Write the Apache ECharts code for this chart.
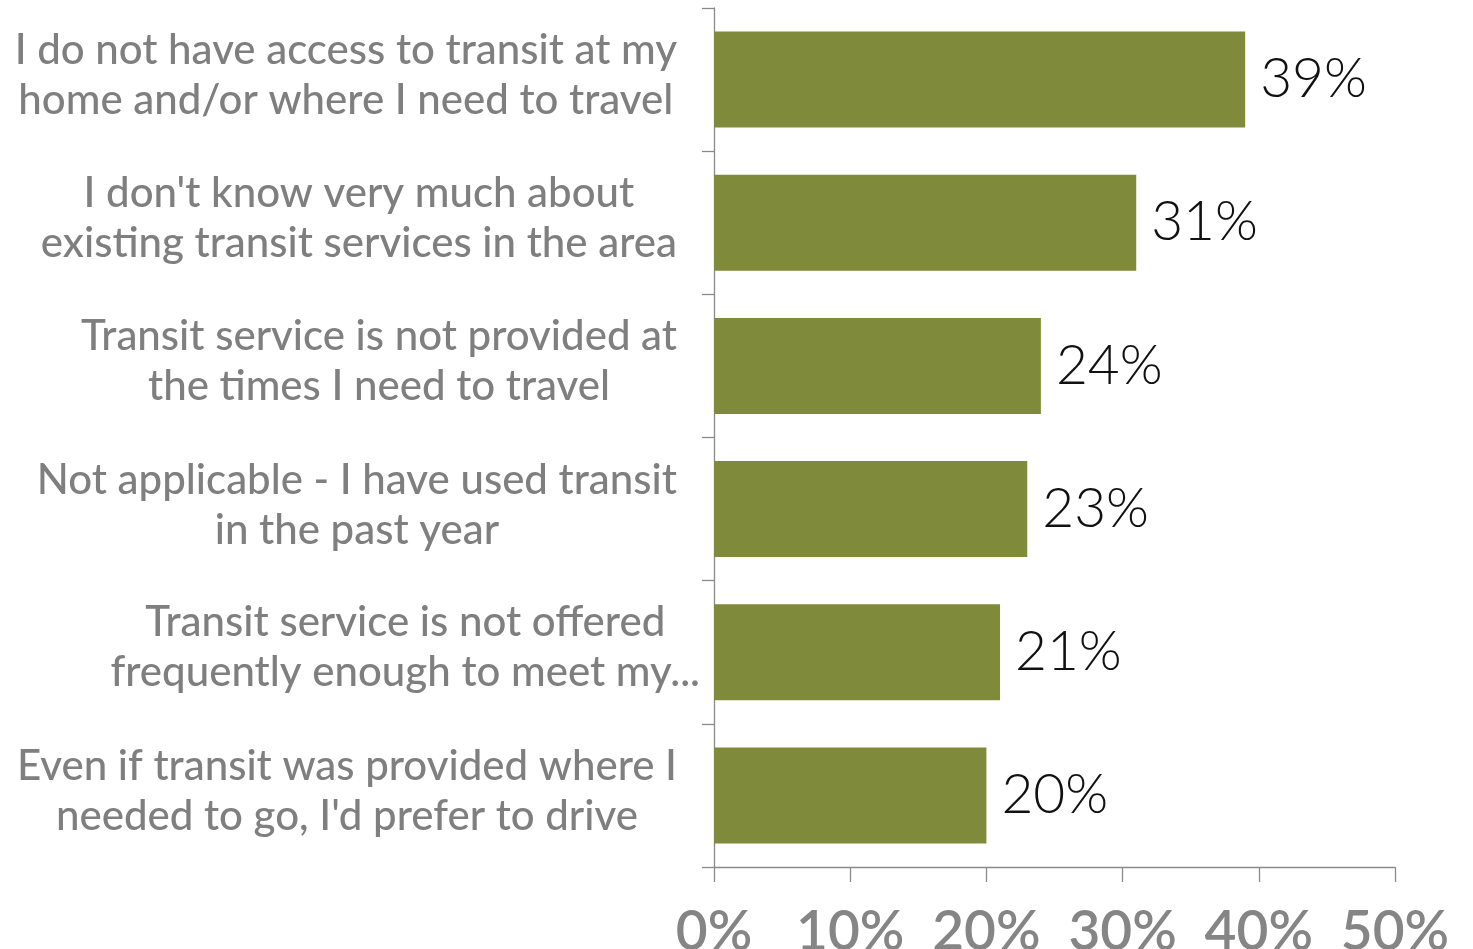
<!DOCTYPE html>
<html>
<head>
<meta charset="utf-8">
<script src="https://cdn.jsdelivr.net/npm/echarts@6/dist/echarts.min.js"></script>
<style>
  html, body { margin: 0; padding: 0; background: #ffffff; }
  #chart { width: 1473px; height: 949px; }
</style>
</head>
<body>
<div id="chart"></div>
<script>
// Reasons given for not using transit (share of respondents)
const categories = [
  "I do not have access to transit at my\nhome and/or where I need to travel",
  "I don't know very much about\nexisting transit services in the area",
  "Transit service is not provided at\nthe times I need to travel",
  "Not applicable - I have used transit\nin the past year",
  "Transit service is not offered\nfrequently enough to meet my...",
  "Even if transit was provided where I\nneeded to go, I'd prefer to drive"
];
const shares = [39, 31, 24, 23, 21, 20];
const axisTicks = [0, 10, 20, 30, 40, 50];

const FONT = 'Lato, "Open Sans", sans-serif';
const AXIS_GREY = '#8a8a8a';

// Each line of a category label is centred within its own block
function centredLines(text) {
  return text.split('\n').map(l => '{c|' + l + '}').join('\n');
}

const yData = categories.map((c, i) => {
  const item = { value: c };
  if (i === 4) item.textStyle = { padding: [0, -23, 10, 0] };
  return item;
});

const chart = echarts.init(document.getElementById('chart'), null, { renderer: 'canvas' });
chart.setOption({
  backgroundColor: '#ffffff',
  animation: false,
  grid: { left: 714, right: 78, top: 8, bottom: 82, containLabel: false, outerBoundsMode: 'none' },
  xAxis: {
    type: 'value',
    min: axisTicks[0],
    max: axisTicks[axisTicks.length - 1],
    interval: axisTicks[1] - axisTicks[0],
    axisLine: { show: true, lineStyle: { color: AXIS_GREY, width: 1.3 } },
    axisTick: { show: true, length: 15, lineStyle: { color: AXIS_GREY, width: 1.3 } },
    splitLine: { show: false },
    axisLabel: {
      formatter: '{value}%',
      color: '#858585',
      fontFamily: FONT,
      fontWeight: 600,
      fontSize: 55,
      margin: 38
    }
  },
  yAxis: {
    type: 'category',
    inverse: true,
    data: yData,
    axisLine: { show: true, lineStyle: { color: AXIS_GREY, width: 1.3 } },
    axisTick: { show: true, length: 12, lineStyle: { color: AXIS_GREY, width: 1.3 } },
    axisLabel: {
      align: 'right',
      margin: 37,
      padding: [0, 0, 8, 0],
      color: '#7f7f7f',
      fontFamily: FONT,
      fontWeight: 500,
      fontSize: 42,
      lineHeight: 50,
      formatter: centredLines,
      rich: {
        c: {
          align: 'center',
          color: '#7f7f7f',
          fontFamily: FONT,
          fontWeight: 500,
          fontSize: 42,
          lineHeight: 50
        }
      }
    }
  },
  series: [{
    type: 'bar',
    data: shares,
    barCategoryGap: '33%',
    itemStyle: { color: '#7F8B3A' },
    label: {
      show: true,
      position: 'right',
      distance: 15,
      formatter: '{c}%',
      color: '#111111',
      fontFamily: FONT,
      fontWeight: 300,
      fontSize: 55
    }
  }]
});
</script>
</body>
</html>
